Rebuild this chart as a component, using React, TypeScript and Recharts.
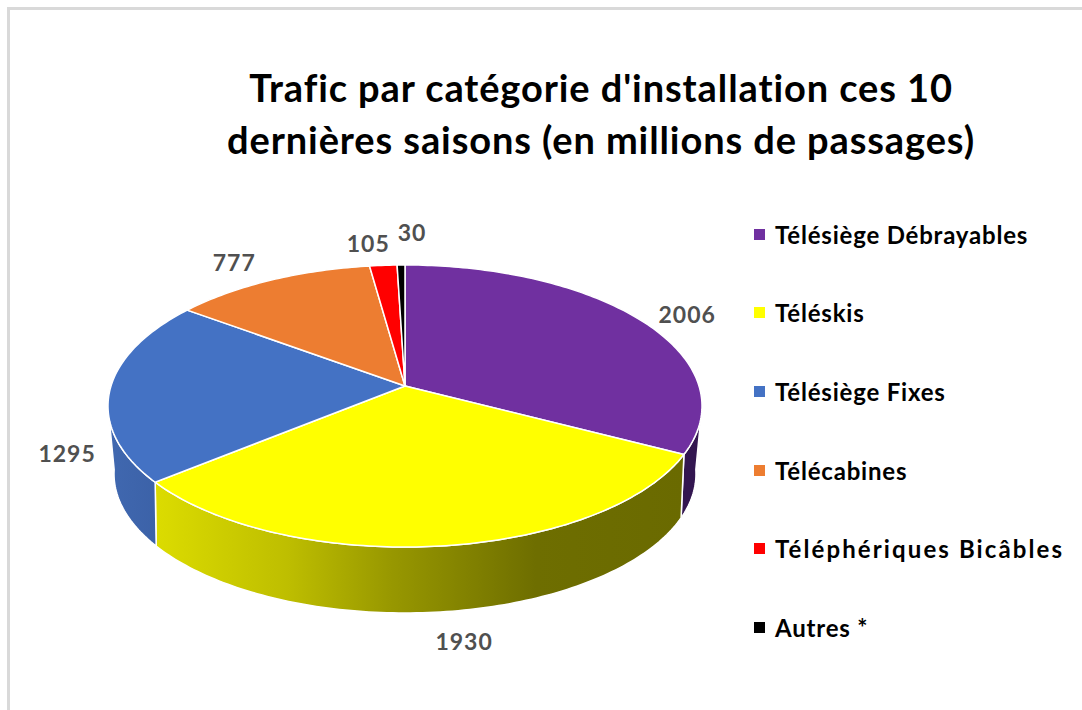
import { Legend, Pie, PieChart } from "recharts";

const categories = [
  "Télésiège Débrayables",
  "Téléskis",
  "Télésiège Fixes",
  "Télécabines",
  "Téléphériques Bicâbles",
  "Autres *",
];
const passages = [2006, 1930, 1295, 777, 105, 30];
const colors = ["#7030A0", "#FFFF00", "#4472C4", "#ED7D31", "#FF0000", "#000000"];
const wallColors = ["#331650", "url(#wallYellow)", "url(#wallBlue)", "#8a4a1c", "#990000", "#000000"];
const titleLines = ["Trafic par catégorie d'installation ces 10", "dernières saisons (en millions de passages)"];

const tableData = categories.map((name, i) => ({ name, value: passages[i], fill: colors[i], wall: wallColors[i] }));

// nudges from the projected rim to where each label sits in the picture
const labelNudge = [
  [48, -5],
  [24, 95],
  [-43, 64],
  [-37, -18],
  [-15, -22],
  [11, -33],
];
// the reference legend is set wider than Lato, one entry much wider
const legendSpacing = [0.8, 0.8, 0.8, 0.8, 2.1, 0.8];

// perspective of the tilted disc, top face and lower rim
const TILT = 0.47;
const PERSP = 0.1418;
const LOW_TILT = 0.459;
const LOW_PERSP = 0.172;
const LOW_SCALE = 0.975;
const LOW_DROP = 64;
const RAD = Math.PI / 180;
const FONT = "Lato, Carlito, sans-serif";

function project(cx: number, cy: number, r: number, angle: number, lower = false) {
  const u = Math.cos(angle * RAD);
  const v = Math.sin(angle * RAD);
  if (lower) {
    const w = 1 + LOW_PERSP * v;
    return { x: cx + (LOW_SCALE * r * u) / w, y: cy + LOW_DROP - (r * LOW_TILT * v) / w };
  }
  const w = 1 + PERSP * v;
  return { x: cx + (r * u) / w, y: cy - (r * TILT * v) / w };
}

function arcPoints(cx: number, cy: number, r: number, from: number, to: number, lower = false) {
  const steps = Math.max(2, Math.ceil(Math.abs(to - from)));
  const pts: string[] = [];
  for (let i = 0; i <= steps; i++) {
    const p = project(cx, cy, r, from + ((to - from) * i) / steps, lower);
    pts.push(`${p.x.toFixed(2)} ${p.y.toFixed(2)}`);
  }
  return pts;
}

function Slice(props: any) {
  const { cx, cy, outerRadius: r, startAngle, endAngle, fill, wall } = props;
  // the rim only shows between the two tangents of the front half
  const tangent = (Math.acos(-PERSP) * 180) / Math.PI;
  const wallFrom = Math.min(startAngle, 90 - tangent);
  const wallTo = Math.max(endAngle, 90 - (360 - tangent));
  const top = arcPoints(cx, cy, r, startAngle, endAngle);
  return (
    <g>
      {wallFrom > wallTo && (
        <path
          d={`M${[
            ...arcPoints(cx, cy, r, wallFrom, wallTo),
            ...arcPoints(cx, cy, r, wallTo, wallFrom, true),
          ].join("L")}Z`}
          fill={wall}
          stroke="#fff"
          strokeWidth={1.5}
        />
      )}
      <path d={`M${cx} ${cy}L${top.join("L")}Z`} fill={fill} stroke="#fff" strokeWidth={1.5} />
    </g>
  );
}

function sliceLabel(props: any) {
  const { cx, cy, outerRadius, midAngle, value, index } = props;
  const p = project(cx, cy, outerRadius, midAngle);
  return (
    <text
      x={p.x + labelNudge[index][0]}
      y={p.y + labelNudge[index][1]}
      textAnchor="middle"
      dominantBaseline="central"
      fill="#505050"
      fontFamily={FONT}
      fontWeight={700}
      fontSize={23}
      letterSpacing={1}
    >
      {value}
    </text>
  );
}

function LegendList({ payload }: any) {
  return (
    <div>
      {(payload || []).map((item: any, i: number) => (
        <div
          key={item.value}
          style={{ height: 78.6, display: "flex", alignItems: "center", whiteSpace: "nowrap" }}
        >
          <span style={{ width: 11, height: 11, background: item.color, marginRight: 10, flex: "none" }} />
          <span style={{ fontFamily: FONT, fontWeight: 700, fontSize: 24, letterSpacing: legendSpacing[i], color: "#000" }}>
            {item.value}
          </span>
        </div>
      ))}
    </div>
  );
}

export default function App() {
  return (
    <div style={{ position: "absolute", left: 0, top: 0, width: 1082, height: 710, overflow: "hidden", background: "#fff" }}>
      <div
        style={{
          position: "absolute",
          left: 7,
          top: 7,
          right: 0,
          bottom: 0,
          borderLeft: "3px solid #d9d9d9",
          borderTop: "3px solid #d9d9d9",
        }}
      />
      <div style={{ position: "absolute", left: 0, top: 0 }}>
        <PieChart width={1082} height={710} margin={{ top: 0, right: 0, bottom: 0, left: 0 }}>
          <defs>
            <linearGradient id="wallYellow" x1="0" y1="0" x2="1" y2="0">
              <stop offset="0%" stopColor="#dcdc00" />
              <stop offset="25%" stopColor="#bebe00" />
              <stop offset="45%" stopColor="#979700" />
              <stop offset="72%" stopColor="#6e6e00" />
              <stop offset="100%" stopColor="#6a6a00" />
            </linearGradient>
            <linearGradient id="wallBlue" x1="0" y1="0" x2="1" y2="0">
              <stop offset="0%" stopColor="#4068b0" />
              <stop offset="100%" stopColor="#3c62a8" />
            </linearGradient>
          </defs>
          <text textAnchor="middle" fontFamily={FONT} fontWeight={700} fontSize={38} letterSpacing={0.9} fill="#000">
            {titleLines.map((line, i) => (
              <tspan key={line} x={601} y={102 + i * 52}>
                {line}
              </tspan>
            ))}
          </text>
          <Pie
            data={tableData}
            dataKey="value"
            nameKey="name"
            cx={405}
            cy={386}
            outerRadius={294}
            startAngle={90}
            endAngle={-270}
            paddingAngle={0}
            stroke="#fff"
            shape={Slice}
            label={sliceLabel}
            labelLine={false}
            isAnimationActive={false}
          />
          <Legend
            content={LegendList}
            itemSorter={null}
            layout="vertical"
            align="right"
            verticalAlign="top"
            wrapperStyle={{ position: "absolute", left: 754, top: 195, width: 328 }}
          />
        </PieChart>
      </div>
    </div>
  );
}
